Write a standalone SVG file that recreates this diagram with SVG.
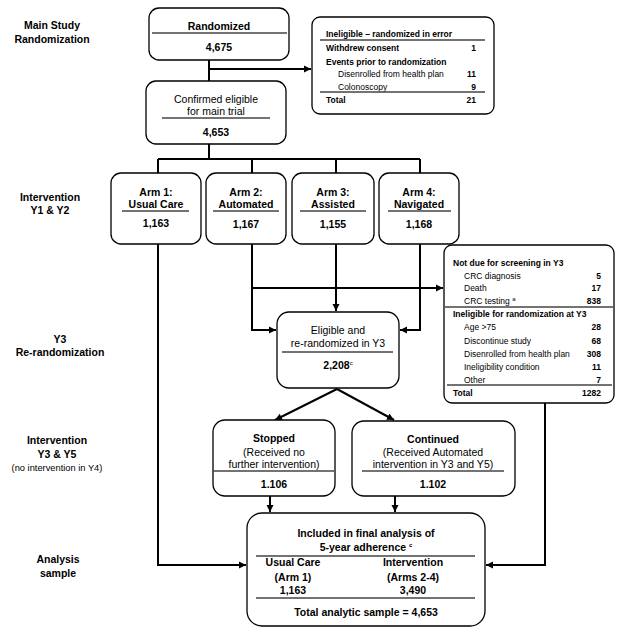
<svg xmlns="http://www.w3.org/2000/svg" width="624" height="635" viewBox="0 0 624 635">
<defs>
<marker id="ah" markerUnits="userSpaceOnUse" markerWidth="8" markerHeight="8" refX="7" refY="4" orient="auto"><path d="M0,0.5 L7,4 L0,7.5 z" fill="#000"/></marker>
<style>
text{font-family:"Liberation Sans",Arial,sans-serif;fill:#000}
.lb{font-size:10.5px;font-weight:bold;text-anchor:middle}
.b{font-size:10.5px;font-weight:bold;text-anchor:middle}
.n{font-size:10.5px;text-anchor:middle}
.s{font-size:9.3px;text-anchor:middle}
.t{font-size:8.5px}
.tb{font-size:8.5px;font-weight:bold}
.tr{font-size:8.5px;font-weight:bold;text-anchor:end}
.sup{font-size:6px}
.box{fill:#fff;stroke:#000;stroke-width:1.3}
.div{stroke:#444;stroke-width:1.5}
.c{fill:none;stroke:#000;stroke-width:2}
</style>
</defs>
<rect width="624" height="635" fill="#fff"/>
<g id="labels">
<text class="lb" x="52" y="29">Main Study</text>
<text class="lb" x="52" y="43">Randomization</text>
<text class="lb" x="50" y="201">Intervention</text>
<text class="lb" x="50" y="214">Y1 &amp; Y2</text>
<text class="lb" x="60" y="343">Y3</text>
<text class="lb" x="60" y="356">Re-randomization</text>
<text class="lb" x="57" y="444">Intervention</text>
<text class="lb" x="57" y="458">Y3 &amp; Y5</text>
<text class="s" x="57" y="471">(no intervention in Y4)</text>
<text class="lb" x="58" y="563">Analysis</text>
<text class="lb" x="58" y="577">sample</text>
</g>
<g id="connectors">
<path class="c" d="M209,60 V81"/>
<path class="c" d="M209,69 H311" marker-end="url(#ah)"/>
<path class="c" d="M209,144 V159 M158,159 H420 M158,159 V173 M252,159 V173 M336,159 V173 M420,159 V173"/>
<path class="c" d="M158,244 V565 H246" marker-end="url(#ah)"/>
<path class="c" d="M252,244 V330 H276" marker-end="url(#ah)"/>
<path class="c" d="M336,244 V311" marker-end="url(#ah)"/>
<path class="c" d="M420,244 V330 H400" marker-end="url(#ah)"/>
<path class="c" d="M252,288 H443" marker-end="url(#ah)"/>
<path class="c" d="M337,389 L275,420" marker-end="url(#ah)"/>
<path class="c" d="M337,389 L394,420" marker-end="url(#ah)"/>
<path class="c" d="M270,496 V512" marker-end="url(#ah)"/>
<path class="c" d="M395,496 V512" marker-end="url(#ah)"/>
<path class="c" d="M545,403 V565 H486" marker-end="url(#ah)"/>
</g>
<g id="randomized">
<rect class="box" x="149" y="8" width="140" height="52" rx="10"/>
<line class="div" x1="152" y1="33" x2="287" y2="33"/>
<text class="b" x="219" y="30">Randomized</text>
<text class="b" x="219" y="51">4,675</text>
</g>
<g id="ineligible-error">
<rect class="box" x="312" y="17" width="182" height="97" rx="8"/>
<text class="tb" x="326" y="37">Ineligible – randomized in error</text>
<line class="div" x1="320" y1="40" x2="485" y2="40"/>
<text class="tb" x="326" y="51">Withdrew consent</text><text class="tr" x="476" y="51">1</text>
<text class="tb" x="326" y="65">Events prior to randomization</text>
<text class="t" x="338" y="77">Disenrolled from health plan</text><text class="tr" x="476" y="77">11</text>
<text class="t" x="338" y="90">Colonoscopy</text><text class="tr" x="476" y="90">9</text>
<line class="div" x1="320" y1="92" x2="485" y2="92"/>
<text class="tb" x="326" y="103">Total</text><text class="tr" x="476" y="103">21</text>
</g>
<g id="confirmed">
<rect class="box" x="146" y="81" width="140" height="63" rx="10"/>
<text class="n" x="216" y="103">Confirmed eligible</text>
<text class="n" x="216" y="115">for main trial</text>
<line class="div" x1="162" y1="118" x2="270" y2="118"/>
<text class="b" x="216" y="136">4,653</text>
</g>
<g id="arm1">
<rect class="box" x="111" y="173" width="90" height="71" rx="10"/>
<text class="b" x="156" y="196">Arm 1:</text>
<text class="b" x="156" y="208">Usual Care</text>
<line class="div" x1="122" y1="211" x2="189" y2="211"/>
<text class="b" x="156" y="227">1,163</text>
</g>
<g id="arm2">
<rect class="box" x="206" y="173" width="80" height="71" rx="10"/>
<text class="b" x="246" y="196">Arm 2:</text>
<text class="b" x="246" y="208">Automated</text>
<line class="div" x1="213" y1="211" x2="279" y2="211"/>
<text class="b" x="246" y="228">1,167</text>
</g>
<g id="arm3">
<rect class="box" x="292" y="173" width="82" height="71" rx="10"/>
<text class="b" x="333" y="196">Arm 3:</text>
<text class="b" x="333" y="208">Assisted</text>
<line class="div" x1="300" y1="211" x2="366" y2="211"/>
<text class="b" x="333" y="228">1,155</text>
</g>
<g id="arm4">
<rect class="box" x="379" y="173" width="80" height="71" rx="10"/>
<text class="b" x="419" y="196">Arm 4:</text>
<text class="b" x="419" y="208">Navigated</text>
<line class="div" x1="388" y1="211" x2="451" y2="211"/>
<text class="b" x="419" y="228">1,168</text>
</g>
<g id="not-due">
<rect class="box" x="444" y="245" width="170" height="158" rx="8"/>
<text class="tb" x="453" y="266">Not due for screening in Y3</text>
<text class="t" x="464" y="279">CRC diagnosis</text><text class="tr" x="601" y="279">5</text>
<text class="t" x="464" y="291">Death</text><text class="tr" x="601" y="291">17</text>
<text class="t" x="464" y="304">CRC testing <tspan class="sup" dy="-3">a</tspan></text><text class="tr" x="601" y="304">838</text>
<line class="div" x1="445" y1="307" x2="613" y2="307"/>
<text class="tb" x="453" y="317">Ineligible  for randomization at Y3</text>
<text class="t" x="464" y="330">Age &gt;75</text><text class="tr" x="601" y="330">28</text>
<text class="t" x="464" y="344">Discontinue study</text><text class="tr" x="601" y="344">68</text>
<text class="t" x="464" y="357">Disenrolled from health plan</text><text class="tr" x="601" y="357">308</text>
<text class="t" x="464" y="370">Ineligibility condition</text><text class="tr" x="601" y="370">11</text>
<text class="t" x="464" y="383">Other</text><text class="tr" x="601" y="383">7</text>
<line class="div" x1="447" y1="385" x2="612" y2="385"/>
<text class="tb" x="453" y="396">Total</text><text class="tr" x="601" y="396">1282</text>
</g>
<g id="eligible-y3">
<rect class="box" x="277" y="312" width="122" height="76" rx="12"/>
<text class="n" x="338" y="334">Eligible and</text>
<text class="n" x="338" y="347">re-randomized in Y3</text>
<line class="div" x1="282" y1="352" x2="393" y2="352"/>
<text class="b" x="338" y="369">2,208<tspan class="sup" font-weight="normal" dy="-4">c</tspan></text>
</g>
<g id="stopped">
<rect class="box" x="213" y="420" width="122" height="76" rx="12"/>
<text class="b" x="274" y="442">Stopped</text>
<text class="n" x="274" y="456">(Received no</text>
<text class="n" x="274" y="468">further intervention)</text>
<line class="div" x1="213" y1="471" x2="334" y2="471"/>
<text class="b" x="274" y="488">1.106</text>
</g>
<g id="continued">
<rect class="box" x="352" y="421" width="163" height="75" rx="12"/>
<text class="b" x="433" y="443">Continued</text>
<text class="n" x="433" y="456">(Received Automated</text>
<text class="n" x="433" y="468">intervention in Y3 and Y5)</text>
<line class="div" x1="362" y1="471" x2="504" y2="471"/>
<text class="b" x="433" y="488">1.102</text>
</g>
<g id="analysis">
<rect class="box" x="247" y="513" width="238" height="113" rx="15"/>
<text class="b" x="366" y="537">Included in final analysis of</text>
<text class="b" x="366" y="551">5-year adherence <tspan class="sup" dy="-4">c</tspan></text>
<line class="div" x1="256" y1="556" x2="475" y2="556"/>
<text class="b" x="293" y="566">Usual Care</text>
<text class="b" x="413" y="566">Intervention</text>
<text class="b" x="293" y="581">(Arm 1)</text>
<text class="b" x="413" y="581">(Arms 2-4)</text>
<text class="b" x="293" y="594">1,163</text>
<text class="b" x="413" y="594">3,490</text>
<line class="div" x1="256" y1="598" x2="475" y2="598"/>
<text class="b" x="366" y="616">Total analytic sample = 4,653</text>
</g>
</svg>
